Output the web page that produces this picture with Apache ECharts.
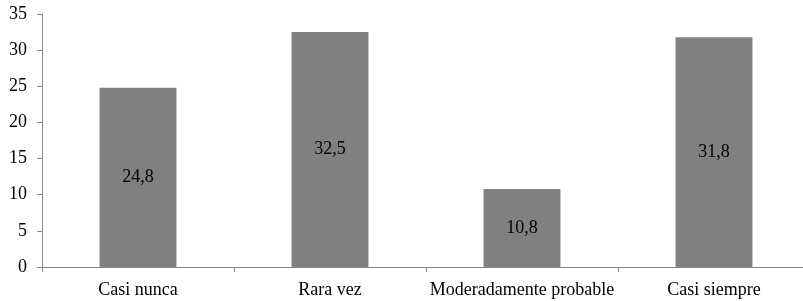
<!DOCTYPE html>
<html><head><meta charset="utf-8">
<script src="https://cdn.jsdelivr.net/npm/echarts@6/dist/echarts.min.js"></script>
<style>html,body{margin:0;padding:0;background:#fff;overflow:hidden;width:803px;height:301px}#c{width:820px;height:301px}</style>
</head><body><div id="c"></div>
<script>
var categories = ['Casi nunca', 'Rara vez', 'Moderadamente probable', 'Casi siempre'];
var values = [24.8, 32.5, 10.8, 31.8];
var chart = echarts.init(document.getElementById('c'));
var font = '"Liberation Serif", "Times New Roman", serif';
chart.setOption({
  animation: false,
  grid: { left: 42, top: 14, height: 253, width: 768 },
  xAxis: {
    type: 'category',
    data: categories,
    axisLine: { lineStyle: { color: '#888', width: 1 } },
    axisTick: { show: true, length: 5, lineStyle: { color: '#888' } },
    axisLabel: { color: '#000', fontFamily: font, fontSize: 18, margin: 14, interval: 0 },
    splitLine: { show: false }
  },
  yAxis: {
    type: 'value', min: 0, max: 35, interval: 5,
    axisLine: { show: true, lineStyle: { color: '#888', width: 1 } },
    axisTick: { show: true, length: 5, lineStyle: { color: '#888' } },
    axisLabel: { color: '#000', fontFamily: font, fontSize: 18, margin: 15 },
    splitLine: { show: false }
  },
  series: [{
    type: 'bar',
    data: values,
    barWidth: '40%',
    itemStyle: { color: '#808080' },
    label: {
      show: true, position: 'inside', color: '#000', fontFamily: font, fontSize: 18,
      formatter: function (p) { return String(p.value).replace('.', ','); }
    }
  }]
});
</script></body></html>
